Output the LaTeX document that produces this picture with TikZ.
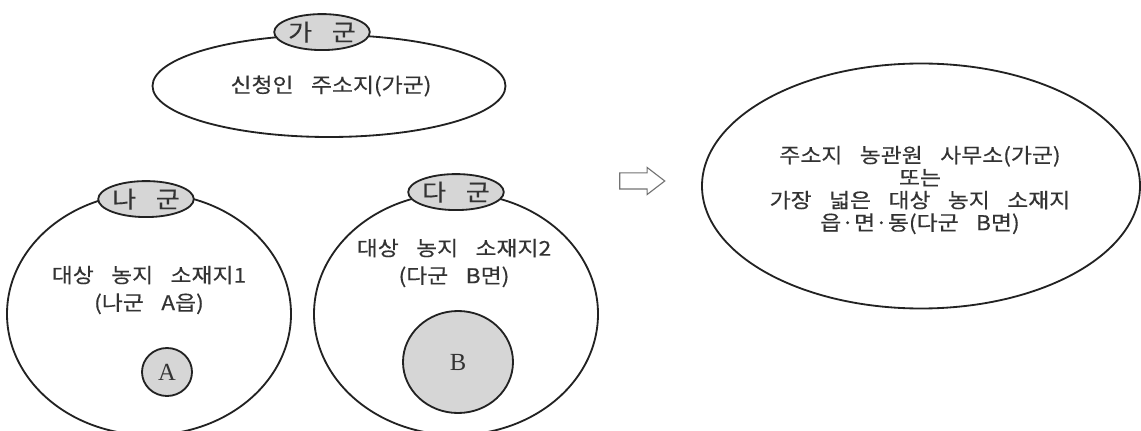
\documentclass[tikz,border=0pt]{standalone}
\usepackage{fontspec}
\setmainfont{Noto Sans CJK KR}[FakeStretch=1.12, WordSpace=3.4, FakeBold=0.35]
\newfontfamily\parcelfont{Liberation Serif}
\usetikzlibrary{shapes.geometric, shapes.arrows}
\definecolor{ink}{HTML}{222222}
\definecolor{letter}{HTML}{333333}
\definecolor{tagfill}{HTML}{D6D6D6}

\begin{document}
\begin{tikzpicture}[
  text=letter,
  region/.style={ellipse, draw=ink, line width=1.3pt, fill=white, inner sep=0pt},
  tag/.style={ellipse, draw=ink, line width=1.3pt, fill=tagfill, inner sep=0pt,
    minimum width=2.2cm, minimum height=.9cm, font=\fontsize{16.5}{18}\selectfont},
  parcel/.style={ellipse, draw=ink, line width=1.3pt, fill=tagfill, inner sep=0pt,
    font=\parcelfont\fontsize{17.5}{18}\selectfont},
  note/.style={align=center, font=\fontsize{14.5}{19.6}\selectfont},
  wide/.style={align=center, font=\fontsize{14.5}{16}\selectfont},
  hollow/.style={single arrow, draw=black!55, line width=.8pt, fill=white,
    inner xsep=0pt, inner ysep=.1875cm, minimum height=1.125cm,
    single arrow head extend=.1375cm, single arrow tip angle=75}
]
\useasboundingbox (0,0) rectangle (28.525,-10.775);

% Applicant's address (group ga)
\node[region, minimum width=8.825cm, minimum height=2.55cm] (applicant) at (8.225,-2.15) {};
\node[note] (applicanttext) at ([xshift=.05cm]applicant.center) {신청인 주소지(가군)};
\node[tag] (ga) at ([xshift=-.175cm, yshift=.05cm]applicant.north) {가 군};

% Farmland sites (groups na and da)
\node[region, minimum width=7.1cm, minimum height=6.05cm] (site1) at (3.725,-7.85) {};
\node[tag] (na) at ([xshift=-.075cm, yshift=-.175cm]site1.north) {나 군};
\node[note] (site1text) at (3.725,-7.25) {대상 농지 소재지1\\(나군 A읍)};
\node[parcel, minimum width=1.25cm, minimum height=1.2cm] (parcelA) at (4.175,-9.3) {A};

\node[region, minimum width=7.1cm, minimum height=6.05cm] (site2) at (11.4,-7.85) {};
\node[tag] (da) at (site2.north) {다 군};
\node[note] (site2text) at (11.35,-6.575) {대상 농지 소재지2\\(다군 B면)};
\node[parcel, minimum width=2.75cm, minimum height=2.55cm] (parcelB) at (11.45,-9.05) {B};

% Result
\node[hollow] (arrow) at (15.925,-4.525) {};
\node[region, minimum width=10.95cm, minimum height=6.125cm] (office) at (23.025,-4.65) {};
\node[wide] (officetext) at (23.0,-4.75)
  {주소지 농관원 사무소(가군)\\또는\\가장 넓은 대상 농지 소재지\\읍·면·동(다군 B면)};
\end{tikzpicture}
\end{document}
